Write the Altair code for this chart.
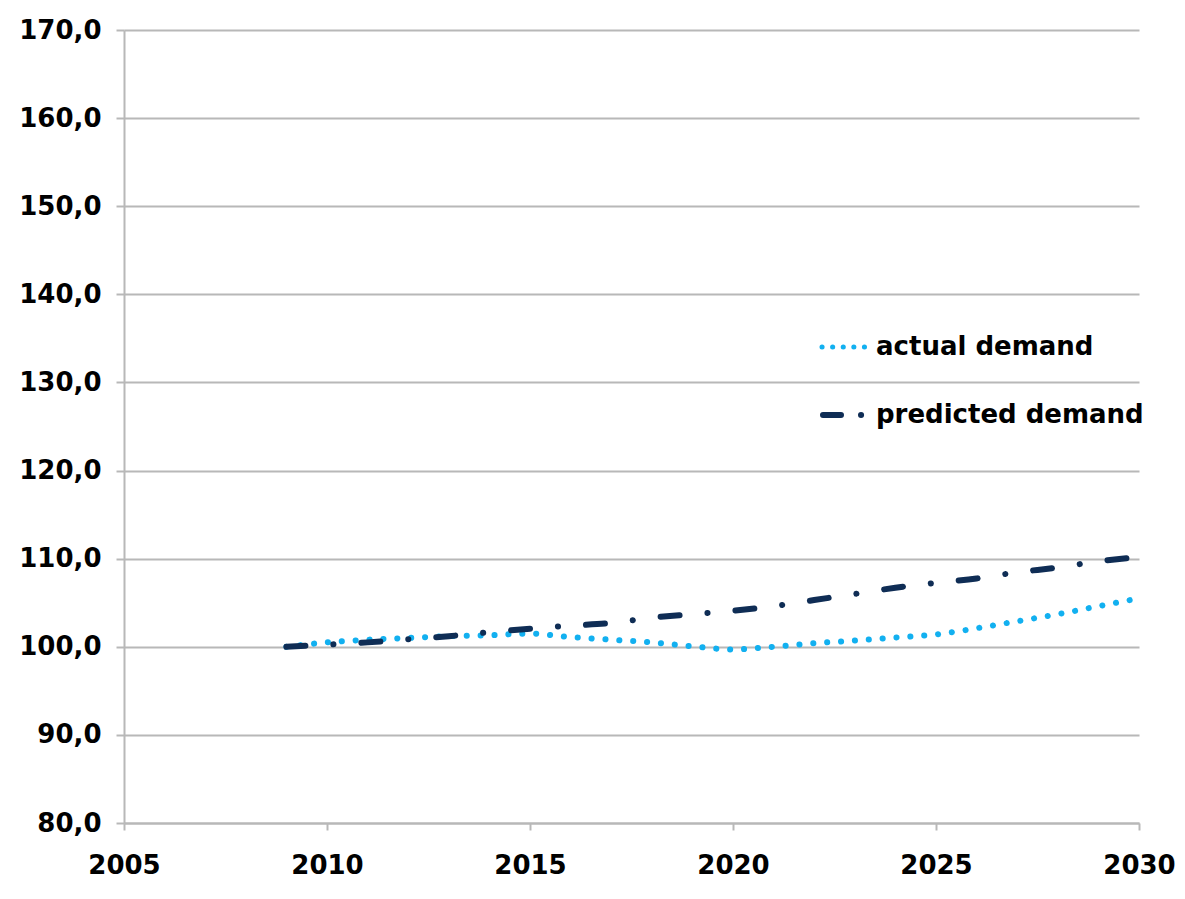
import altair as alt
import pandas as pd

years = list(range(2009, 2031))
actual_demand = [100.0, 100.5, 100.8, 101.0, 101.2, 101.3, 101.5, 101.1, 100.8, 100.5, 100.05,
                 99.7, 100.0, 100.4, 100.7, 101.05, 101.4, 102.1, 102.9, 103.7, 104.6, 105.5]
predicted_demand = [100.0, 100.25, 100.5, 100.85, 101.2, 101.65, 102.05, 102.4, 102.7, 103.3, 103.7,
                    104.1, 104.6, 105.3, 106.0, 106.7, 107.25, 107.75, 108.45, 109.0, 109.7, 110.2]
series_names = ["actual demand", "predicted demand"]
x_ticks = [2005, 2010, 2015, 2020, 2025, 2030]
y_ticks = [80, 90, 100, 110, 120, 130, 140, 150, 160, 170]

FONT = "DejaVu Sans"
FS = 26
GRID = "#b8b8b8"
ACTUAL_COLOR = "#12b0f0"
PRED_COLOR = "#0f2d55"

df_a = pd.DataFrame({"year": years, "value": actual_demand})
df_p = pd.DataFrame({"year": years, "value": predicted_demand})

x_enc = alt.X("year:Q", scale=alt.Scale(domain=[2005, 2030], nice=False, zero=False),
              axis=alt.Axis(values=x_ticks, format="d", title=None, grid=False,
                            labelFontSize=FS, labelFontWeight="bold", labelFont=FONT,
                            labelColor="#000", labelPadding=22, tickSize=7, labelFlush=False,
                            labelOverlap=False,
                            tickColor=GRID, domainColor=GRID, tickWidth=2, domainWidth=2))
y_enc = alt.Y("value:Q", scale=alt.Scale(domain=[80, 170], nice=False, zero=False),
              axis=alt.Axis(values=y_ticks, title=None, grid=True, gridColor=GRID, gridWidth=2,
                            labelExpr="replace(format(datum.value, '.1f'), '.', ',')",
                            labelFontSize=FS, labelFontWeight="bold", labelFont=FONT,
                            labelColor="#000", labelPadding=15, tickSize=8, labelFlush=False,
                            labelOverlap=False,
                            tickColor=GRID, domainColor=GRID, tickWidth=2, domainWidth=2))

pred_line = alt.Chart(df_p).mark_line(
    color=PRED_COLOR, strokeWidth=6, strokeCap="round", interpolate="monotone",
    strokeDash=[19, 28, 0.1, 28]
).encode(x=x_enc, y=y_enc)

act_line = alt.Chart(df_a).mark_line(
    color=ACTUAL_COLOR, strokeWidth=6, strokeCap="round", interpolate="monotone",
    strokeDash=[0.1, 13.8]
).encode(x=x_enc, y=y_enc)

# manual legend (layout positions in pixels)
leg = pd.DataFrame({"label": series_names})
leg_a_sym = alt.Chart(leg[leg.label == series_names[0]]).mark_rule(
    color=ACTUAL_COLOR, strokeWidth=5, strokeCap="round", strokeDash=[0.1, 10.5]
).encode(x=alt.value(698), x2=alt.value(746), y=alt.value(317))
leg_p_sym = alt.Chart(leg[leg.label == series_names[1]]).mark_rule(
    color=PRED_COLOR, strokeWidth=6, strokeCap="round", strokeDash=[18, 20, 0.1, 30]
).encode(x=alt.value(699), x2=alt.value(742), y=alt.value(385))
leg_a_txt = alt.Chart(leg[leg.label == series_names[0]]).mark_text(
    align="left", baseline="middle", font=FONT, fontWeight="bold", fontSize=FS, color="#000"
).encode(x=alt.value(752), y=alt.value(317), text="label:N")
leg_p_txt = alt.Chart(leg[leg.label == series_names[1]]).mark_text(
    align="left", baseline="middle", font=FONT, fontWeight="bold", fontSize=FS, color="#000"
).encode(x=alt.value(752), y=alt.value(385), text="label:N")

chart = alt.layer(act_line, pred_line, leg_a_sym, leg_p_sym, leg_a_txt, leg_p_txt).properties(
    width=1015, height=793,
    autosize=alt.AutoSizeParams(type="none"),
    padding={"left": 116, "top": 22, "right": 38, "bottom": 68},
).configure(background="white").configure_view(stroke="transparent", strokeWidth=0)

chart.save("out.html", embed_options={"renderer": "svg", "actions": False})
